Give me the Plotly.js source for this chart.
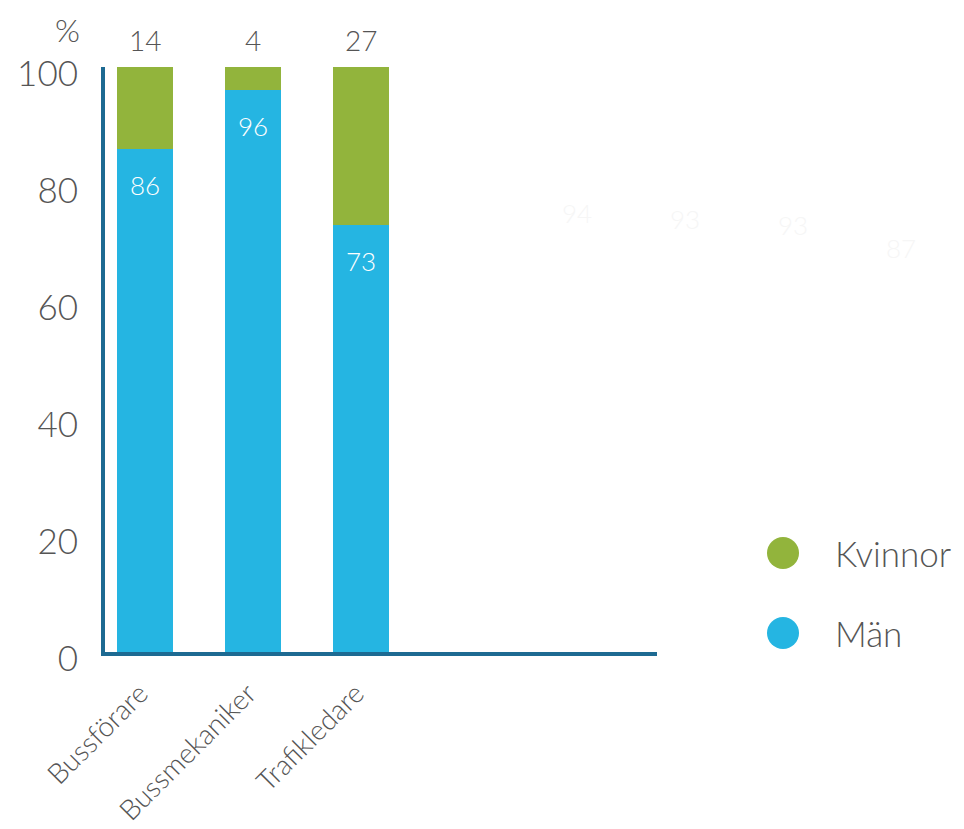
<!DOCTYPE html>
<html><head><meta charset="utf-8">
<script src="https://cdn.plot.ly/plotly-3.0.1.min.js"></script>
<style>html,body{margin:0;padding:0;background:#fff}#c{width:964px;height:829px}</style>
</head><body><div id="c"></div>
<script>
const categories = ["Bussförare", "Bussmekaniker", "Trafikledare"];
const man = [86, 96, 73];
const kvinnor = [14, 4, 27];
const ghostLabels = ["94", "93", "93", "87"];
const ghostValues = [75, 74, 73, 69];
const yTicks = [0, 20, 40, 60, 80, 100];

const BLUE = "#25b5e2", GREEN = "#92b43c", AXIS = "#1d6a92", TXT = "#555555";
const idx = categories.map((_, i) => i);
const F = "Lato, 'Open Sans', sans-serif";
const W = 300;

const traces = [
  {type: "bar", x: idx, y: man, name: "Män", marker: {color: BLUE}, width: 0.52, hoverinfo: "none"},
  {type: "bar", x: idx, y: kvinnor, name: "Kvinnor", marker: {color: GREEN}, width: 0.52, hoverinfo: "none"}
];

const L = 105, R = 657, T = 67, B = 652;
const XMIN = -0.37, XMAX = 4.74;
const px = v => (v - L) / (R - L);
const py = v => (B - v) / (B - T);
const dx = i => (i - XMIN) / (XMAX - XMIN);

const ann = [];
idx.forEach(i => {
  ann.push({x: i, y: man[i], xref: "x", yref: "y", text: String(man[i]), showarrow: false,
    yanchor: "middle", yshift: -36, font: {family: F, size: 26, weight: W, color: "#ffffff"}});
  ann.push({x: i, y: man[i] + kvinnor[i], xref: "x", yref: "y", text: String(kvinnor[i]), showarrow: false,
    yanchor: "middle", yshift: 27, font: {family: F, size: 28, weight: W, color: TXT}});
});
ghostLabels.forEach((t, k) => {
  ann.push({x: dx(4 + k), y: ghostValues[k] / 100, xref: "paper", yref: "paper", text: t, showarrow: false,
    xanchor: "center", yanchor: "middle", font: {family: F, size: 26, weight: W, color: "#f6f6f6"}});
});
ann.push({x: px(67), y: py(29), xref: "paper", yref: "paper", text: "%", showarrow: false,
  xanchor: "center", yanchor: "middle", font: {family: F, size: 32, weight: W, color: TXT}});
const legendItems = [{name: "Kvinnor", color: GREEN, y: 553}, {name: "Män", color: BLUE, y: 633}];
const shapes = [];
legendItems.forEach(it => {
  shapes.push({type: "circle", xref: "paper", yref: "paper", x0: px(767), x1: px(799), y0: py(it.y + 16), y1: py(it.y - 16),
    fillcolor: it.color, line: {width: 0}});
  ann.push({x: px(833), y: py(it.y), xref: "paper", yref: "paper", text: it.name, showarrow: false,
    xanchor: "left", yanchor: "middle", font: {family: F, size: 35, weight: W, color: TXT}});
});

const layout = {
  width: 964, height: 829,
  margin: {l: L, r: 964 - R, t: T, b: 829 - B, pad: 0},
  paper_bgcolor: "#fff", plot_bgcolor: "#fff",
  barmode: "stack", showlegend: false,
  xaxis: {range: [XMIN, XMAX], tickvals: idx, ticktext: categories, tickangle: -45,
    showgrid: false, zeroline: false, showline: true, linecolor: AXIS, linewidth: 4,
    ticks: "outside", ticklen: 10, tickcolor: "rgba(0,0,0,0)", ticklabelshift: -5,
    tickfont: {family: F, size: 28, weight: W, color: TXT}},
  yaxis: {range: [0, 100], tickvals: yTicks, showgrid: false, zeroline: false,
    showline: true, linecolor: AXIS, linewidth: 4,
    ticks: "outside", ticklen: 16, tickcolor: "rgba(0,0,0,0)", ticklabelshift: 7,
    tickfont: {family: F, size: 35, weight: W, color: TXT}},
  annotations: ann, shapes: shapes
};
Plotly.newPlot("c", traces, layout, {staticPlot: true});
</script></body></html>
